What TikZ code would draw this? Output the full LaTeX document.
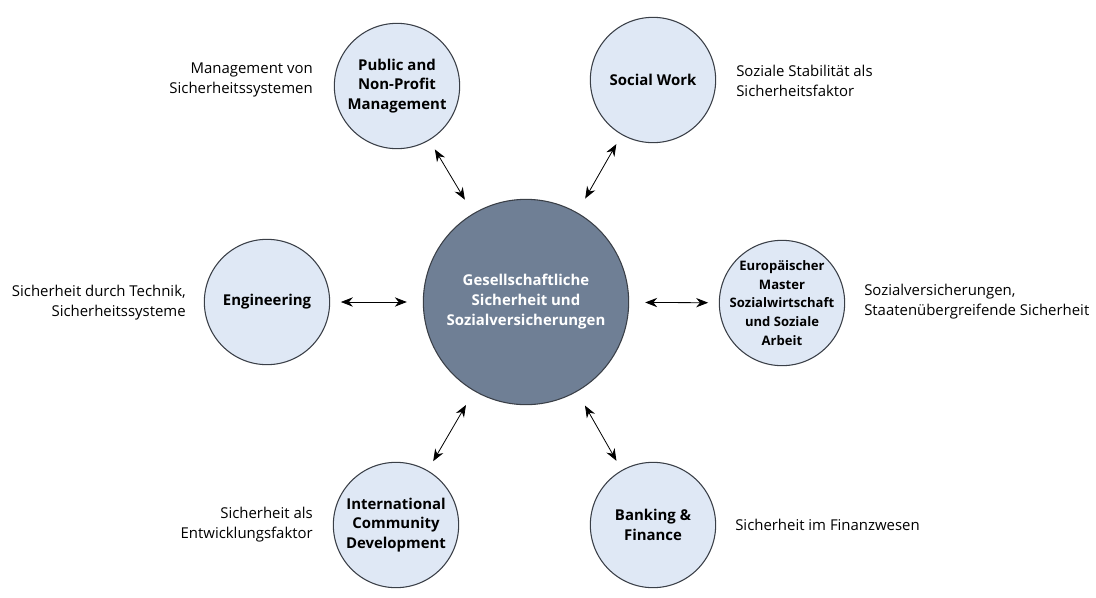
\documentclass[tikz,border=0pt]{standalone}
\usepackage{fontspec}
\setmainfont{Open Sans}
\usetikzlibrary{arrows.meta}
\definecolor{hubfill}{HTML}{6F7F95}
\definecolor{satfill}{HTML}{DFE8F5}
\definecolor{rimcol}{HTML}{3A3F47}
\tikzset{
  sat/.style={circle, draw=rimcol, line width=0.8pt, fill=satfill, minimum size=94pt, inner sep=0pt, align=center, font=\fontsize{11.2}{14.6}\selectfont\bfseries},
  sattext/.style={inner sep=0pt, align=center, font=\fontsize{9.8}{14}\selectfont\bfseries},
  hub/.style={circle, draw=rimcol, line width=0.8pt, fill=hubfill, minimum size=154pt, inner sep=0pt, align=center, text=white, font=\fontsize{11.2}{15}\selectfont\bfseries},
  lbl/.style={font=\fontsize{11.2}{15}\selectfont, inner sep=0pt},
  link/.style={{Stealth[length=9pt,width=7pt]}-{Stealth[length=9pt,width=7pt]}, line width=0.6pt, shorten <=8pt, shorten >=12pt}
}
\begin{document}
\begin{tikzpicture}[x=0.75pt,y=-0.75pt]
\useasboundingbox (0,0) rectangle (1096,597);
\node[hub] (hub) at (526,302) {Gesellschaftliche\\Sicherheit und\\Sozialversicherungen};
\node[sat] (pub) at (397,86) {Public and\\Non-Profit\\Management};
\node[sat] (soc) at (653,80) {Social Work};
\node[sat] (eng) at (267,302) {Engineering};
\node[sat] (eur) at (782,303) {};
\node[sattext] (eurtext) at (eur.center) {Europäischer\\Master\\Sozialwirtschaft\\und Soziale\\Arbeit};
\node[sat] (int) at (396,525) {International\\Community\\Development};
\node[sat] (bank) at (653,525) {Banking \&\\Finance};
\node[lbl, anchor=east, align=right] (lpub) at (313,80) {Management von\\Sicherheitssystemen};
\node[lbl, anchor=west, align=left] (lsoc) at (736,81) {Soziale Stabilität als\\Sicherheitsfaktor};
\node[lbl, anchor=east, align=right] (leng) at (186,303) {Sicherheit durch Technik,\\Sicherheitssysteme};
\node[lbl, anchor=west, align=left] (leur) at (864,302) {Sozialversicherungen,\\Staatenübergreifende Sicherheit};
\node[lbl, anchor=east, align=right] (lint) at (313,525) {Sicherheit als\\Entwicklungsfaktor};
\node[lbl, anchor=west, align=left] (lbank) at (735,525) {Sicherheit im Finanzwesen};
\draw[link] (pub) -- (hub);
\draw[link] (soc) -- (hub);
\draw[link] (eng) -- (hub);
\draw[link] (eur) -- (hub);
\draw[link] (int) -- (hub);
\draw[link] (bank) -- (hub);
\end{tikzpicture}
\end{document}
